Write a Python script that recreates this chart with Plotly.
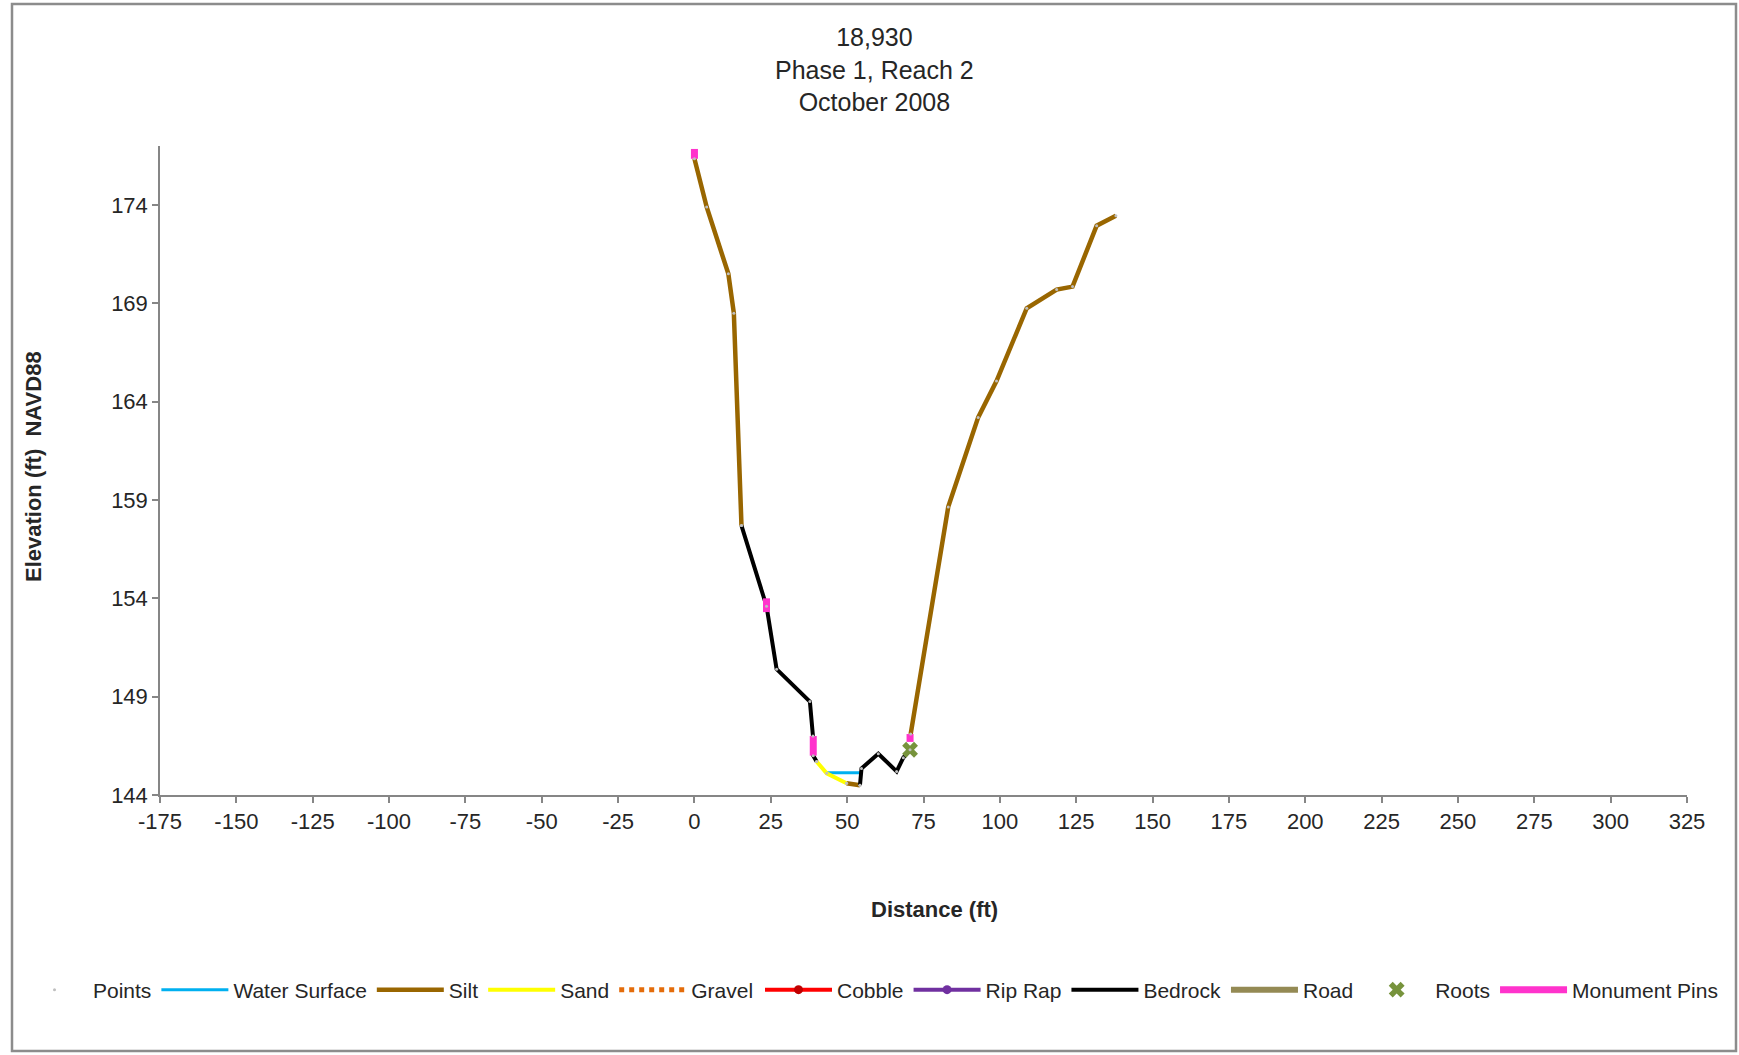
import plotly.graph_objects as go

# ---------------- data ----------------
title_lines = ["18,930", "Phase 1, Reach 2", "October 2008"]

# Silt (left bank, channel bottom, right bank)
silt_left_x = [0.0, 4.0, 11.1, 12.9, 15.4]
silt_left_y = [176.35, 173.9, 170.5, 168.5, 157.7]
silt_bottom_x = [49.8, 54.2]
silt_bottom_y = [144.6, 144.5]
silt_right_x = [70.8, 83.1, 92.9, 98.9, 108.8, 118.6, 123.8, 131.7, 138.0]
silt_right_y = [147.1, 158.65, 163.2, 165.05, 168.75, 169.7, 169.85, 172.95, 173.45]

# Bedrock (left bank and right channel)
bedrock_left_x = [15.4, 23.6, 26.9, 37.8, 38.8, 38.9, 40.0]
bedrock_left_y = [157.7, 153.6, 150.4, 148.75, 147.0, 146.0, 145.7]
bedrock_right_x = [54.2, 54.7, 60.2, 66.2, 68.4, 70.6]
bedrock_right_y = [144.5, 145.35, 146.1, 145.2, 145.9, 146.3]

# Sand
sand_x = [40.0, 43.3, 49.8]
sand_y = [145.7, 145.1, 144.6]

# Water surface
water_x = [43.3, 54.2]
water_y = [145.13, 145.13]

# Roots
roots_x = [70.6]
roots_y = [146.3]

# Monument pins (distance, bottom, top)
pin_x = [0.0, 23.6, 38.9, 70.6]
pin_low = [176.35, 153.3, 146.0, 146.7]
pin_high = [176.85, 154.0, 147.0, 147.1]

# Empty series shown only in legend
gravel_x, gravel_y = [None], [None]
cobble_x, cobble_y = [None], [None]
riprap_x, riprap_y = [None], [None]
road_x, road_y = [None], [None]

# Axis ticks
x_ticks = list(range(-175, 326, 25))
y_ticks = [144, 149, 154, 159, 164, 169, 174]
x_range = [-175, 325]
y_range = [144, 177]

# ---------------- helpers ----------------
def join(*parts):
    xs, ys = [], []
    for i, (px, py) in enumerate(parts):
        if i:
            xs.append(None); ys.append(None)
        xs += px; ys += py
    return xs, ys

silt_x, silt_y = join((silt_left_x, silt_left_y), (silt_bottom_x, silt_bottom_y),
                      (silt_right_x, silt_right_y))
bed_x, bed_y = join((bedrock_left_x, bedrock_left_y), (bedrock_right_x, bedrock_right_y))
pins_x, pins_y = join(*[([x, x], [lo, hi]) for x, lo, hi in zip(pin_x, pin_low, pin_high)])

points_x = silt_left_x + bedrock_left_x + sand_x + silt_bottom_x + bedrock_right_x + silt_right_x
points_y = silt_left_y + bedrock_left_y + sand_y + silt_bottom_y + bedrock_right_y + silt_right_y

FONT = "Liberation Sans, Arial, sans-serif"
TXT = "#262626"

fig = go.Figure()
fig.add_trace(go.Scatter(x=water_x, y=water_y, mode="lines", name="Water Surface",
                         line=dict(color="#00B0F0", width=3), legendrank=2, legend="legend"))
fig.add_trace(go.Scatter(x=silt_x, y=silt_y, mode="lines", name="Silt",
                         line=dict(color="#996600", width=4.5), legendrank=3, legend="legend"))
fig.add_trace(go.Scatter(x=sand_x, y=sand_y, mode="lines", name="Sand",
                         line=dict(color="#FFFF00", width=4), legendrank=4, legend="legend"))
fig.add_trace(go.Scatter(x=gravel_x, y=gravel_y, mode="lines", name="Gravel",
                         line=dict(color="#E46C0A", width=5, dash="dot"), legendrank=5,
                         legend="legend"))
fig.add_trace(go.Scatter(x=cobble_x, y=cobble_y, mode="lines+markers", name="Cobble",
                         line=dict(color="#FF0000", width=4),
                         marker=dict(color="#C00000", size=9, symbol="circle"), legendrank=6,
                         legend="legend2"))
fig.add_trace(go.Scatter(x=riprap_x, y=riprap_y, mode="lines+markers", name="Rip Rap",
                         line=dict(color="#7030A0", width=4),
                         marker=dict(color="#7030A0", size=9, symbol="circle"), legendrank=7,
                         legend="legend2"))
fig.add_trace(go.Scatter(x=bed_x, y=bed_y, mode="lines", name="Bedrock",
                         line=dict(color="#000000", width=4), legendrank=8, legend="legend2"))
fig.add_trace(go.Scatter(x=road_x, y=road_y, mode="lines", name="Road",
                         line=dict(color="#948A54", width=6), legendrank=9, legend="legend2"))
fig.add_trace(go.Scatter(x=roots_x, y=roots_y, mode="markers", name="Roots",
                         marker=dict(color="#77933C", size=14, symbol="x",
                                     line=dict(width=0)), legendrank=10, legend="legend2"))
fig.add_trace(go.Scatter(x=pins_x, y=pins_y, mode="lines", name="Monument Pins",
                         line=dict(color="#FF33CC", width=7), legendrank=11, legend="legend2"))
fig.add_trace(go.Scatter(x=points_x, y=points_y, mode="markers", name="Points",
                         marker=dict(color="#BFBFBF", size=3), legendrank=1, legend="legend"))

# pixel geometry of plot area
W, H = 1739, 1055
L, R, T, B = 160, 52, 146, 260
pw, ph = W - L - R, H - T - B

def px_x(px):
    return (px - L) / pw

def px_y(py):
    return (H - B - py) / ph

legend_common = dict(orientation="h", xref="container", yref="container",
                     xanchor="left", y=1 - 990 / H, yanchor="middle",
                     font=dict(size=21, family=FONT, color=TXT), itemwidth=67,
                     traceorder="normal", bgcolor="rgba(0,0,0,0)")

fig.update_layout(
    width=W, height=H,
    margin=dict(l=L, r=R, t=T, b=B),
    paper_bgcolor="white", plot_bgcolor="white",
    font=dict(family=FONT, color=TXT, size=21),
    showlegend=True,
    legend=dict(x=16 / W, **legend_common),
    legend2=dict(x=760 / W, **legend_common),
    xaxis=dict(range=x_range, tickvals=x_ticks, ticktext=[str(v) for v in x_ticks],
               showgrid=False, zeroline=False, showline=True, linecolor="#868686",
               linewidth=1.5, ticks="outside", ticklen=6, tickcolor="#868686",
               tickwidth=1.5, tickfont=dict(size=22, family=FONT, color=TXT)),
    yaxis=dict(range=y_range, tickvals=y_ticks, showgrid=False, zeroline=False,
               showline=True, linecolor="#868686", linewidth=1.5, ticks="outside",
               ticklen=6, tickcolor="#868686", tickwidth=1.5,
               tickfont=dict(size=22, family=FONT, color=TXT)),
    annotations=[
        dict(text="<br>".join(title_lines), xref="paper", yref="paper",
             x=px_x(874), y=px_y(69), xanchor="center", yanchor="middle",
             showarrow=False, font=dict(size=25, family=FONT, color=TXT)),
        dict(text="<b>Distance (ft)</b>", xref="paper", yref="paper",
             x=px_x(934), y=px_y(909), xanchor="center", yanchor="middle",
             showarrow=False, font=dict(size=22, family=FONT, color=TXT)),
        dict(text="<b>Elevation (ft)  NAVD88</b>", xref="paper", yref="paper",
             x=px_x(34), y=px_y(466), xanchor="center", yanchor="middle",
             textangle=-90, showarrow=False, font=dict(size=22, family=FONT, color=TXT)),
    ],
    shapes=[dict(type="rect", xref="paper", yref="paper",
                 x0=px_x(12), x1=px_x(1736), y0=px_y(1051), y1=px_y(4),
                 line=dict(color="#8C8C8C", width=2.5), fillcolor="rgba(0,0,0,0)",
                 layer="below")],
)

fig.write_html("out.html")
